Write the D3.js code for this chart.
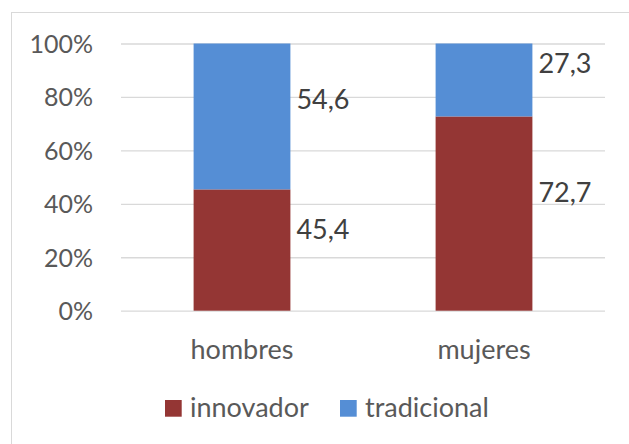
<!DOCTYPE html>
<html><head><meta charset="utf-8">
<script src="https://cdn.jsdelivr.net/npm/d3@7"></script>
<style>body{margin:0;background:#fff}svg{display:block}text{font-family:Lato,"Open Sans",sans-serif}</style>
</head><body><svg id="c" width="629" height="444"></svg>
<script>
const categories = ["hombres", "mujeres"];
const seriesNames = ["innovador", "tradicional"];
const innovador = [45.4, 72.7];
const tradicional = [54.6, 27.3];
const yTicks = [0, 20, 40, 60, 80, 100];
const colors = ["#943634", "#558ED5"];

const svg = d3.select("#c");
const W = 629, H = 444;
const m = {left:121, right:24, top:43.5, bottom:133.3};
const x = d3.scaleBand().domain(categories).range([m.left, W - m.right]).padding(0);
const y = d3.scaleLinear().domain([0, 100]).range([H - m.bottom, m.top]);
const barW = x.bandwidth() * 0.4;

// outer border
svg.append("rect").attr("x", 11.5).attr("y", 12.5).attr("width", 640).attr("height", 460)
  .attr("fill", "none").attr("stroke", "#d9d9d9").attr("stroke-width", 1);

// gridlines
const yAxis = d3.axisLeft(y).tickValues(yTicks).tickFormat(d => d + "%").tickSize(-(W - m.left - m.right)).tickPadding(28);
const ga = svg.append("g").attr("transform", `translate(${m.left},0)`).call(yAxis);
ga.select(".domain").remove();
ga.selectAll(".tick line").attr("stroke", "#d9d9d9").attr("stroke-width", 1.3);
ga.selectAll(".tick text").attr("fill", "#595959").attr("font-size", 25).attr("dy", "0.36em");

const stacked = categories.map((c, i) => ({c, parts: [
  {s:0, y0:0, y1:innovador[i], v:innovador[i]},
  {s:1, y0:innovador[i], y1:innovador[i] + tradicional[i], v:tradicional[i]}
]}));

const labelShift = [-21, -17];
stacked.forEach(d => {
  const cx = x(d.c) + x.bandwidth() / 2;
  d.parts.forEach(p => {
    svg.append("rect").attr("x", cx - barW / 2).attr("width", barW)
      .attr("y", y(p.y1)).attr("height", y(p.y0) - y(p.y1)).attr("fill", colors[p.s]);
    svg.append("text").attr("x", cx + barW / 2 + 6)
      .attr("y", (y(p.y0) + y(p.y1)) / 2 + labelShift[p.s]).attr("dy", "0.36em")
      .attr("fill", "#404040").attr("font-size", 27)
      .text(d3.format(".1f")(p.v).replace(".", ","));
  });
});

// x axis category labels
const xa = svg.append("g").attr("transform", `translate(0,${y(0)})`)
  .call(d3.axisBottom(x).tickSize(0).tickPadding(29));
xa.select(".domain").remove();
xa.selectAll(".tick text").attr("fill", "#595959").attr("font-size", 27);

// legend
const legX = [165, 340];
seriesNames.forEach((n, i) => {
  svg.append("rect").attr("x", legX[i]).attr("y", 400).attr("width", 16.7).attr("height", 16.7).attr("fill", colors[i]);
  svg.append("text").attr("x", legX[i] + 25).attr("y", 416.5).attr("fill", "#595959").attr("font-size", 27).text(n);
});
</script></body></html>
